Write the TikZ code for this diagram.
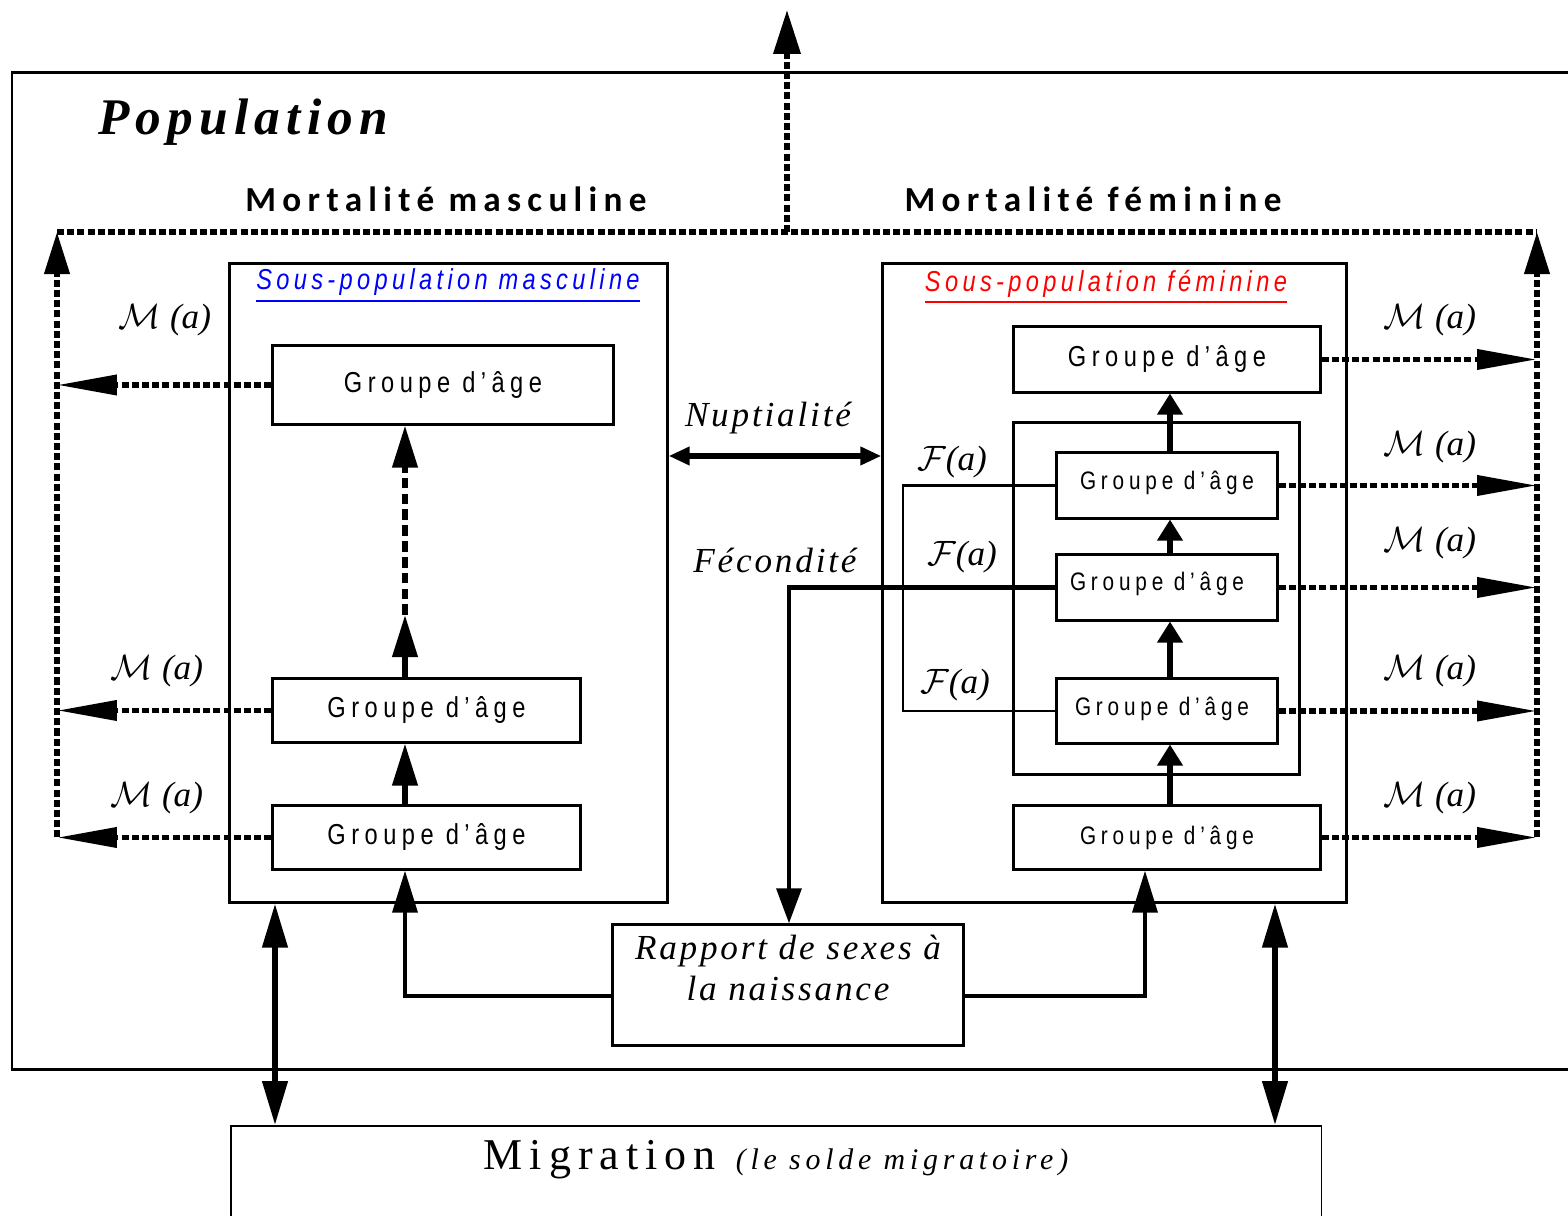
\documentclass[tikz,border=0pt]{standalone}
\usepackage{fontspec}
\setmainfont{Liberation Serif}
\usetikzlibrary{arrows.meta}
\newfontfamily\grpfont[LetterSpace=19,FakeStretch=0.82]{Liberation Sans}
\newfontfamily\subfont[LetterSpace=15,FakeStretch=0.82]{Liberation Sans}
\newfontfamily\mortfont[LetterSpace=18]{Carlito}
\newfontfamily\popfont[LetterSpace=12]{Liberation Serif}
\newfontfamily\spacedserif[LetterSpace=8]{Liberation Serif}
\newfontfamily\migfont[LetterSpace=16]{Liberation Serif}
\begin{document}
\begin{tikzpicture}[x=0.01cm,y=-0.01cm,
  box/.style={draw,line width=0.85pt,inner sep=0pt},
  grpL/.style={font=\grpfont\fontsize{8.2}{9}\selectfont},
  grpS/.style={font=\grpfont\fontsize{7.2}{8}\selectfont},
  subt/.style={font=\subfont\itshape\fontsize{8.2}{9}\selectfont},
  mortt/.style={font=\mortfont\bfseries\fontsize{10}{11}\selectfont},
  mlab/.style={font=\fontsize{10}{12}\selectfont,inner sep=0pt},
  serlab/.style={font=\spacedserif\itshape\fontsize{10}{11.4}\selectfont},
  dotln/.style={line width=1.6pt,dash pattern=on 2pt off 0.9pt},
  dotarr/.style={dotln,-{Triangle[length=17pt,width=5.5pt]}},
  uparr/.style={-{Triangle[length=12pt,width=7pt]}},
  thickarr/.style={line width=1.6pt,-{Triangle[length=12pt,width=7pt]}},
  farr/.style={line width=1.6pt,-{Triangle[length=6pt,width=7pt]}},
  migarr/.style={line width=1.6pt,{Triangle[length=12.5pt,width=7pt]}-{Triangle[length=12.5pt,width=7pt]}}
]
\useasboundingbox (0,0) rectangle (1568,1216);
\clip (0,0) rectangle (1568,1216);
\fill[white] (0,0) rectangle (1568,1216);

% outer population frame
\draw[line width=0.85pt] (1600,73) -- (12,73) -- (12,1070) -- (1600,1070);
\node[anchor=west,font=\popfont\bfseries\itshape\fontsize{14.6}{16}\selectfont] (pop) at (86,122) {Population};
\node[mortt] (mm) at (446,199) {Mortalité masculine};
\node[mortt] (mf) at (1093,199) {Mortalité féminine};

% sub-populations
\node[box,minimum width=4.37cm,minimum height=6.38cm] (sm) at (448.5,583) {};
\node[box,minimum width=4.63cm,minimum height=6.38cm] (sf) at (1114.5,583) {};
\node[subt,text=blue] (smt) at (448,286) {\underline{Sous-population masculine}};
\node[subt,text=red] (sft) at (1106,287) {\underline{Sous-population féminine}};

% male age groups
\node[box,grpL,minimum width=3.40cm,minimum height=0.78cm] (m1) at (443,385) {Groupe d’âge};
\node[box,grpL,minimum width=3.07cm,minimum height=0.63cm] (m2) at (426.5,710.5) {\raisebox{0.06cm}{Groupe d’âge}};
\node[box,grpL,minimum width=3.07cm,minimum height=0.63cm] (m3) at (426.5,837.5) {Groupe d’âge};

% female age groups
\node[box,grpL,minimum width=3.06cm,minimum height=0.65cm] (ft) at (1167,359.5) {Groupe d’âge};
\node[box,minimum width=2.85cm,minimum height=3.51cm] (fin) at (1156.5,598.5) {};
\node[box,grpS,minimum width=2.20cm,minimum height=0.65cm] (f2) at (1167,485.5) {\raisebox{0.1cm}{Groupe d’âge}};
\node[box,grpS,minimum width=2.20cm,minimum height=0.65cm] (f3) at (1167,587.5) {\raisebox{0.12cm}{Groupe d’âge\hspace{0.2cm}}};
\node[box,grpS,minimum width=2.20cm,minimum height=0.64cm] (f4) at (1167,711) {\raisebox{0.1cm}{Groupe d’âge\hspace{0.1cm}}};
\node[box,grpS,minimum width=3.06cm,minimum height=0.63cm] (fb) at (1167,837.5) {Groupe d’âge};

% rapport and migration
\node[box,minimum width=3.50cm,minimum height=1.20cm] (rap) at (788,985) {};
\node[serlab,align=center] (rapt) at (788,968) {Rapport de sexes à\\la naissance};
\node[draw,line width=0.45pt,inner sep=0pt,minimum width=10.9cm,minimum height=2cm,anchor=north west] (mig) at (230,1125) {};
\node[anchor=base,font=\migfont\fontsize{12.5}{14}\selectfont] (migt) at (776,1170) {Migration\hspace{0.2cm}{\itshape\fontsize{8.5}{10}\selectfont (le solde migratoire)}};

% coordinates
\coordinate (lx) at (57,232);
\coordinate (rx) at (1537,232);
\coordinate (tx) at (787,232);
\coordinate (topc) at (787,10);
\coordinate (ax) at (405,0);
\coordinate (midc) at (405,615);
\coordinate (cx) at (1170,0);
\coordinate (ny) at (0,456);
\coordinate (fx) at (789,0);
\coordinate (flx) at (903,0);
\coordinate (ry) at (0,996);
\coordinate (bx) at (1145,0);
\coordinate (g1) at (275,0);
\coordinate (g2) at (1275,0);

% mortality dotted network
\draw[dotln] (lx) -- (rx);
\draw[dotln,uparr] (lx |- m3.west) -- (lx);
\draw[dotln,uparr] (rx |- fb.east) -- (rx);
\draw[dotln,-{Triangle[length=12.5pt,width=7.5pt]}] (tx) -- (topc);
\foreach \n in {m1,m2,m3} \draw[dotarr] (\n.west) -- (\n.west -| lx);
\foreach \n in {ft,f2,f3,f4,fb} \draw[dotarr] (\n.east) -- (\n.east -| rx);

% M(a) labels
\node[mlab] (ma1) at (165,320) {$\mathcal{M}$ \textit{(a)}};
\node[mlab] (ma2) at (157,671) {$\mathcal{M}$ \textit{(a)}};
\node[mlab] (ma3) at (157,798) {$\mathcal{M}$ \textit{(a)}};
\node[mlab] (fa1) at (1430,320) {$\mathcal{M}$ \textit{(a)}};
\node[mlab] (fa2) at (1430,447) {$\mathcal{M}$ \textit{(a)}};
\node[mlab] (fa3) at (1430,543) {$\mathcal{M}$ \textit{(a)}};
\node[mlab] (fa4) at (1430,671) {$\mathcal{M}$ \textit{(a)}};
\node[mlab] (fa5) at (1430,798) {$\mathcal{M}$ \textit{(a)}};
\node[mlab] (ff1) at (952,462) {$\mathcal{F}$\textit{(a)}};
\node[mlab] (ff2) at (962,557) {$\mathcal{F}$\textit{(a)}};
\node[mlab] (ff3) at (955,685) {$\mathcal{F}$\textit{(a)}};

% male ageing arrows
\draw[thickarr] (ax |- m3.north) -- (ax |- m2.south);
\draw[thickarr] (ax |- m2.north) -- (midc);
\draw[line width=1.6pt,dash pattern=on 3pt off 1.5pt,uparr] (midc) -- (ax |- m1.south);

% female ageing arrows
\draw[farr] (cx |- fb.north) -- (cx |- f4.south);
\draw[farr] (cx |- f4.north) -- (cx |- f3.south);
\draw[farr] (cx |- f3.north) -- (cx |- f2.south);
\draw[farr] (cx |- f2.north) -- (cx |- ft.south);

% nuptiality
\draw[line width=1.6pt,{Triangle[length=6pt,width=5pt]}-{Triangle[length=6pt,width=5pt]}] (sm.east |- ny) -- (sf.west |- ny);
\node[serlab] (nup) at (768,418) {Nuptialité};
\node[serlab] (fec) at (775,560) {Fécondité};

% fecundity
\draw[line width=0.7pt] (f2.west) -- (f2.west -| flx) -- (f4.west -| flx) -- (f4.west);
\draw[line width=1.3pt,-{Triangle[length=10pt,width=7pt]}] (f3.west) -- (f3.west -| fx) -- (fx |- rap.north);

% sex ratio at birth
\draw[line width=1.4pt,uparr] (rap.west |- ry) -- (ax |- ry) -- (ax |- m3.south);
\draw[line width=1.4pt,uparr] (rap.east |- ry) -- (bx |- ry) -- (bx |- fb.south);

% migration
\draw[migarr] (g1 |- sm.south) -- (g1 |- mig.north);
\draw[migarr] (g2 |- sf.south) -- (g2 |- mig.north);
\end{tikzpicture}
\end{document}
